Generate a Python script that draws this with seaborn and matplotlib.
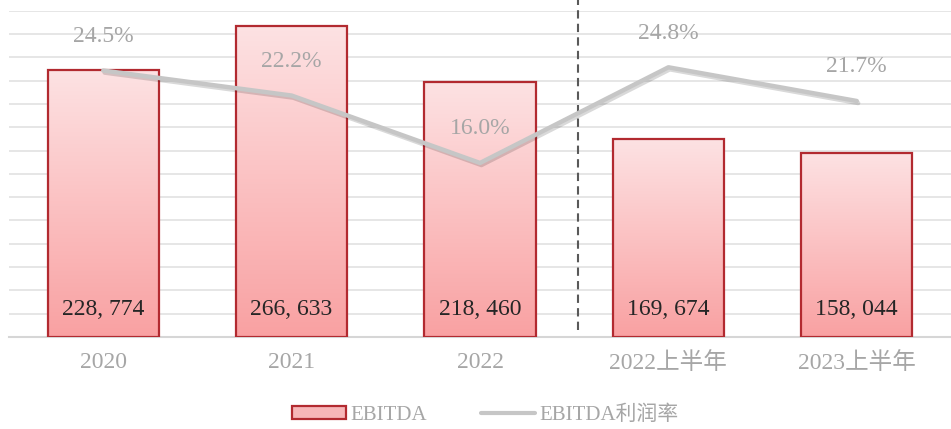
import numpy as np
import pandas as pd
import matplotlib
matplotlib.use('Agg')
import matplotlib.pyplot as plt
import matplotlib.colors as mcolors
import matplotlib.patheffects as pe
import seaborn as sns
from matplotlib.patches import Patch
from matplotlib.lines import Line2D

# ── data ────────────────────────────────────────────
periods = ['2020', '2021', '2022', '2022上半年', '2023上半年']
ebitda = [228774, 266633, 218460, 169674, 158044]
margin = [24.5, 22.2, 16.0, 24.8, 21.7]

df = pd.DataFrame({'period': periods, 'ebitda': ebitda, 'margin': margin})

# ── style ───────────────────────────────────────────
sns.set_style('white')
plt.rcParams['font.family'] = ['Liberation Serif', 'Noto Sans CJK SC']

edge_red = '#b22a30'
grid_col = '#e2e2e2'
label_grey = '#a6a6a6'
line_grey = '#c6c6c6'

fig = plt.figure(figsize=(9.51, 4.29), dpi=100)
ax = fig.add_axes([0.0095, 0.2145, 0.9905, 0.7605])

sns.barplot(data=df, x='period', y='ebitda', ax=ax, width=0.59,
            color='white', edgecolor=edge_red, linewidth=1.6, zorder=3)

# gradient fill inside each bar: light pink at top, salmon at bottom
grad_cmap = mcolors.LinearSegmentedColormap.from_list('pinkgrad', ['#f9a1a2', '#fde2e3'])
grad = np.linspace(0, 1, 256).reshape(-1, 1)
for bar in ax.patches:
    bar.set_facecolor('none')
    x0, w, h = bar.get_x(), bar.get_width(), bar.get_height()
    im = ax.imshow(grad, cmap=grad_cmap, origin='lower', aspect='auto',
                   extent=[x0, x0 + w, 0, h], zorder=2)
    im.set_clip_path(bar)

ax.set_xlim(-0.5, 4.5)
ax.set_ylim(0, 280000)
ax.set_yticks(np.arange(20000, 280001, 20000))
ax.yaxis.grid(True, color=grid_col, linewidth=1.2)
ax.set_axisbelow(True)
ax.tick_params(axis='y', left=False, length=0, labelleft=False)
ax.tick_params(axis='x', bottom=False, length=0, pad=11, labelsize=17, labelcolor=label_grey)
ax.set_xlabel('')
ax.set_ylabel('')
for s in ['top', 'right', 'left']:
    ax.spines[s].set_visible(False)
ax.spines['bottom'].set_color('#d6d6d6')
ax.spines['bottom'].set_linewidth(1.5)

# values near the bottom of each bar
for i, v in enumerate(ebitda):
    ax.text(i, 0.083, f'{v:,}'.replace(',', ', '), transform=ax.get_xaxis_transform(),
            ha='center', va='center', fontsize=17, color='#262626', zorder=5)

# divider between full years and half years
ax.plot([2.52, 2.52], [0.021, 1.034], transform=ax.get_xaxis_transform(),
        color='#595959', linestyle=(0, (4, 2.5)), linewidth=1.5, clip_on=False, zorder=4)

# ── margin line on secondary axis ────────────────────
ax2 = ax.twinx()
sns.lineplot(x=np.arange(len(periods)), y=margin, ax=ax2, color=line_grey,
             linewidth=3.2, zorder=6,
             path_effects=[pe.SimpleLineShadow(offset=(1, -1.5), alpha=0.15),
                           pe.Normal()])
ax2.set_ylim(0, 30)
ax2.set_xlim(-0.5, 4.5)
ax2.axis('off')
for i, m in enumerate(margin):
    ax2.annotate(f'{m:.1f}%', (i, m), xytext=(0, 24.5), textcoords='offset points',
                 ha='center', va='center', fontsize=17, color=label_grey)

# ── legend ──────────────────────────────────────────
handles = [Patch(facecolor='#f7b6b8', edgecolor=edge_red, linewidth=1.6),
           Line2D([], [], color=line_grey, linewidth=3)]
fig.legend(handles, ['EBITDA', 'EBITDA利润率'], loc='center', bbox_to_anchor=(0.51, 0.033),
           ncol=2, frameon=False, fontsize=15, labelcolor=label_grey,
           handlelength=2.6, handleheight=0.6, handletextpad=0.2, columnspacing=2.6)

plt.savefig('out.png', dpi=100)
